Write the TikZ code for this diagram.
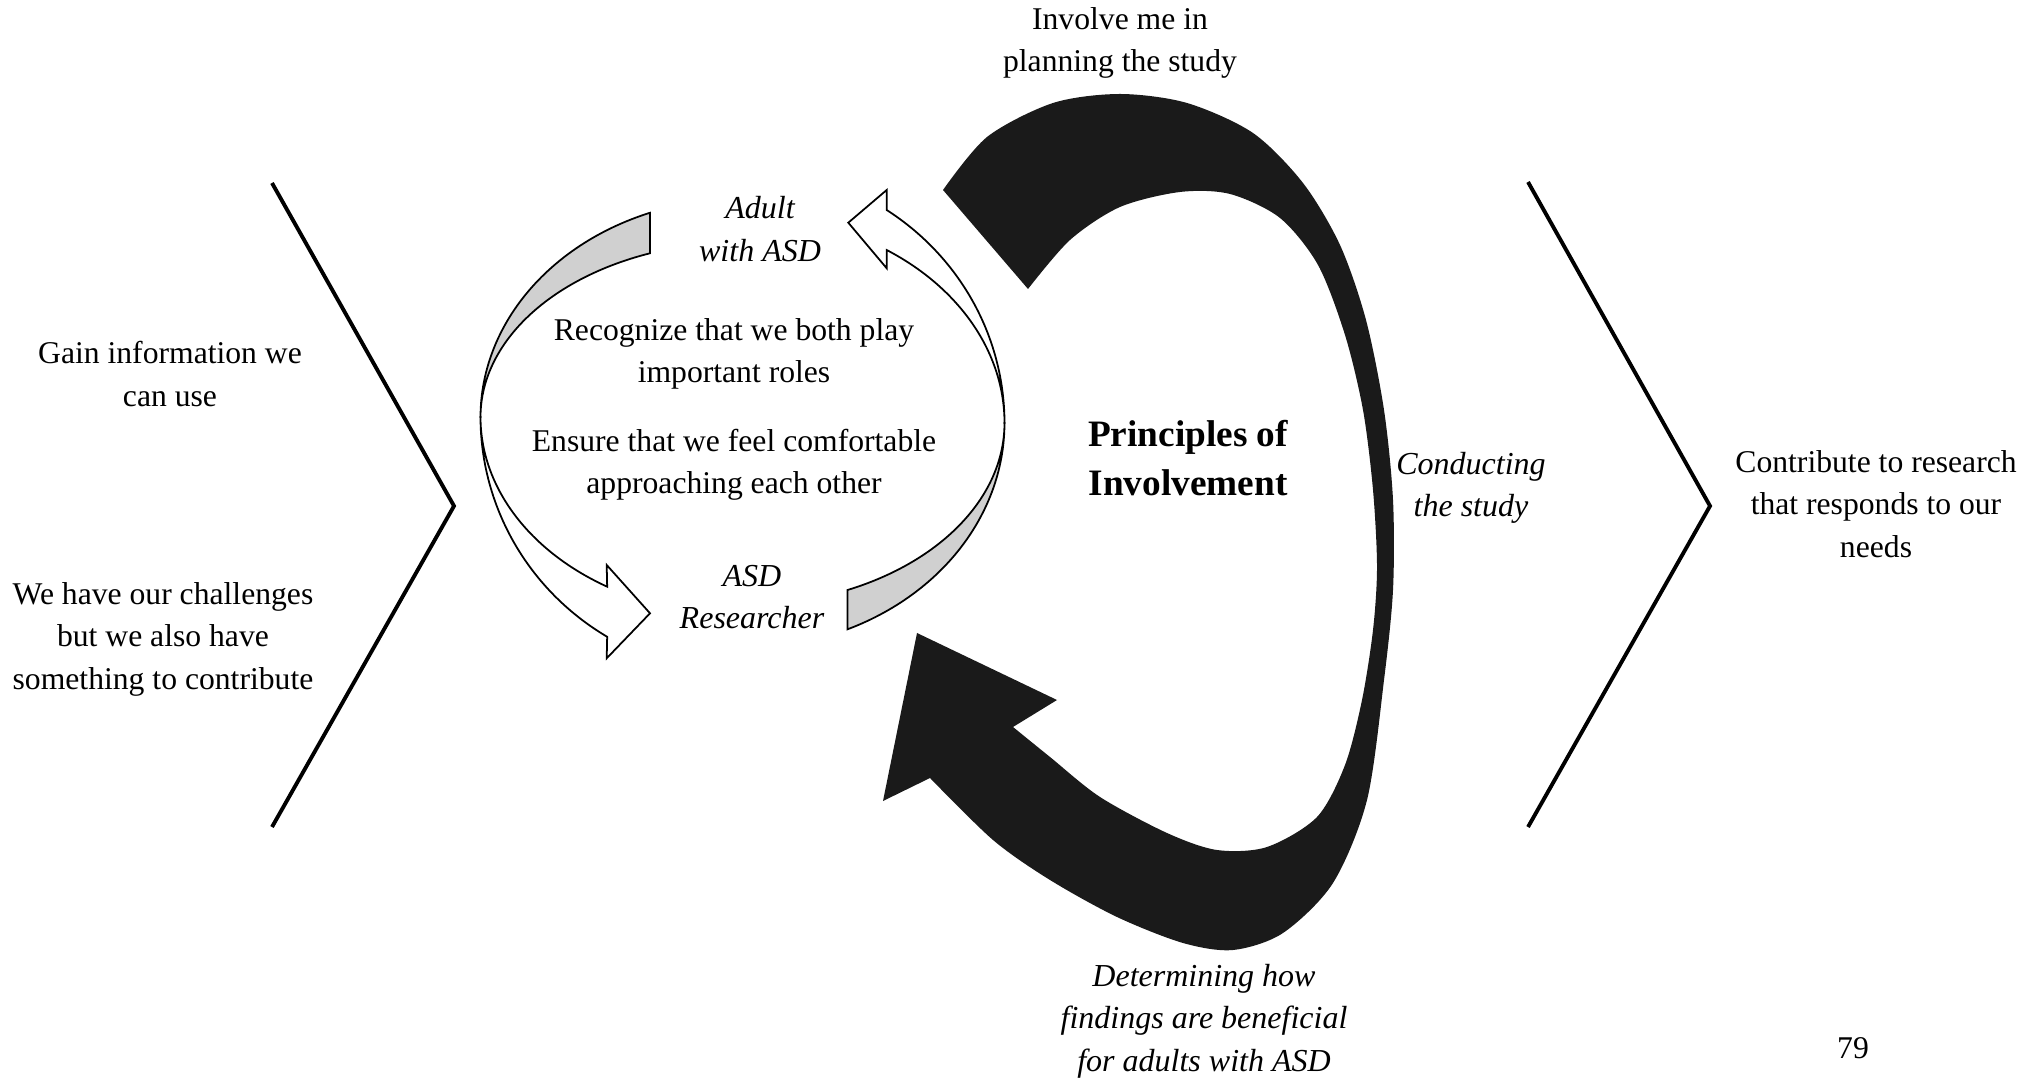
\documentclass[tikz,border=0pt]{standalone}
\usepackage{fontspec}
\setmainfont{Liberation Serif}
\begin{document}
\begin{tikzpicture}[x=0.01cm,y=-0.01cm,
  txt/.style={align=center,font=\fontsize{9}{12.1}\selectfont,inner sep=0pt},
  itxt/.style={align=center,font=\fontsize{9.1}{12.1}\selectfont\itshape,inner sep=0pt},
  btxt/.style={align=center,font=\fontsize{10.6}{13.9}\selectfont\bfseries,inner sep=0pt},
  chev/.style={draw=black,line width=1.1pt,line join=miter},
  gband/.style={fill={rgb,255:red,208;green,208;blue,208},draw=black,line width=0.5pt},
  wband/.style={fill=white,draw=black,line width=0.5pt,line join=miter},
  blk/.style={fill={rgb,255:red,26;green,26;blue,26}}]
\useasboundingbox (0,0) rectangle (2034,1080);

% chevrons
\coordinate (L1) at (272,183); \coordinate (L2) at (454,506); \coordinate (L3) at (272,827);
\draw[chev] (L1) -- (L2) -- (L3);
\coordinate (R1) at (1528,182); \coordinate (R2) at (1710,506); \coordinate (R3) at (1528,827);
\draw[chev] (R1) -- (R2) -- (R3);

% small circular arrows
\filldraw[gband] plot[domain=110.7:180,samples=60] ({742.5+262*cos(\x)},{417-218.3*sin(\x)})
  -- plot[domain=180:110.7,samples=60] ({742.5+262*cos(\x)},{417-175*sin(\x)}) -- cycle;
\filldraw[wband] plot[domain=180:238.9,samples=60] ({742.5+262*cos(\x)},{417-198.2*sin(\x)})
  -- (606.7,565) -- (650,613.3) -- (606.7,658.3)
  -- plot[domain=238.9:180,samples=60] ({742.5+262*cos(\x)},{417-256.7*sin(\x)}) -- cycle;
\filldraw[gband] plot[domain=-66.4:0,samples=60] ({742.5+262*cos(\x)},{423-182.3*sin(\x)})
  -- plot[domain=0:-66.4,samples=60] ({742.5+262*cos(\x)},{423-225.2*sin(\x)}) -- cycle;
\filldraw[wband] plot[domain=0:56.6,samples=60] ({742.5+262*cos(\x)},{423-207.2*sin(\x)})
  -- (886.7,268.3) -- (848.3,222.7) -- (886.7,190)
  -- plot[domain=56.6:0,samples=60] ({742.5+262*cos(\x)},{423-255.1*sin(\x)}) -- cycle;

% big black arrow
\fill[blk] plot[smooth,tension=0.5] coordinates {(943,190) (987,137) (1053,103) (1120,94) (1187,103) (1253,133) (1303,183) (1340,245) (1366,320) (1384,410) (1393,500) (1393,590) (1384,680) (1367,800) (1333,883) (1283,933) (1233,950) (1183,943) (1117,917) (1050,880) (993,840) (930,778)}
  -- (883,801) -- (917,633) -- (1057,700)
  -- plot[smooth,tension=0.5] coordinates {(1013,727) (1050,757) (1100,797) (1167,833) (1217,850) (1267,847) (1317,817) (1345,765) (1362,700) (1373,630) (1377,567) (1373,490) (1363,410) (1345,335) (1318,265) (1280,218) (1230,194) (1180,192) (1120,207) (1070,240) (1028,289)}
  -- cycle;

% texts
\node[txt] (gain) at (170,374) {Gain information we\\can use};
\node[txt] (chal) at (163,639) {We have our challenges\\but we also have\\something to contribute};
\node[txt] (recog) at (734,354) {Recognize that we both play\\important roles};
\node[txt] (ensure) at (734,465) {Ensure that we feel comfortable\\approaching each other};
\node[itxt] (adult) at (760,229) {Adult\\with ASD};
\node[itxt] (res) at (752,597) {ASD\\Researcher};
\node[txt] (inv) at (1120,43) {Involve me in\\planning the study};
\node[btxt] (prin) at (1188,458) {Principles of\\Involvement};
\node[itxt] (cond) at (1471,488) {Conducting\\the study};
\node[itxt] (det) at (1204,1021) {Determining how\\findings are beneficial\\for adults with ASD};
\node[txt] (contr) at (1876,504) {Contribute to research\\that responds to our\\needs};
\node[txt] (page) at (1853,1048) {79};
\end{tikzpicture}
\end{document}
